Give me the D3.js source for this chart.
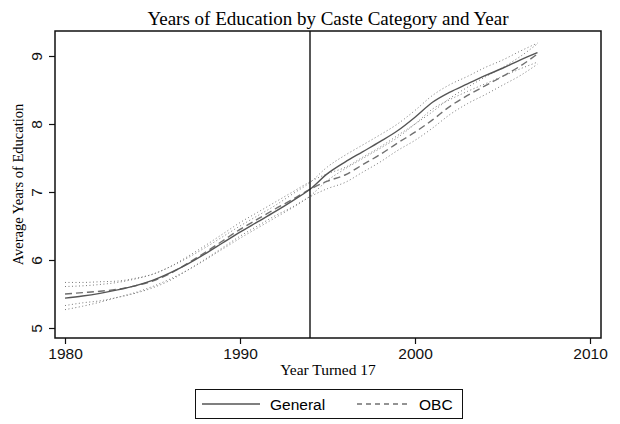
<!DOCTYPE html>
<html>
<head>
<meta charset="utf-8">
<script src="https://cdn.jsdelivr.net/npm/d3@7"></script>
<style>
  body { margin: 0; background: #fff; }
  svg { display: block; }
</style>
</head>
<body>
<div id="chart"></div>
<script>
// data
const years = d3.range(1980, 2008);
const general = [5.44, 5.47, 5.51, 5.56, 5.62, 5.70, 5.81, 5.94, 6.09, 6.25,
                 6.41, 6.56, 6.71, 6.87, 7.04, 7.27, 7.44, 7.59, 7.74, 7.90,
                 8.10, 8.32, 8.47, 8.59, 8.71, 8.82, 8.94, 9.05];
const obc = [5.50, 5.52, 5.54, 5.57, 5.62, 5.69, 5.80, 5.95, 6.11, 6.28,
             6.45, 6.60, 6.75, 6.89, 7.04, 7.16, 7.25, 7.40, 7.55, 7.72,
             7.88, 8.06, 8.26, 8.42, 8.56, 8.70, 8.85, 9.03];
// half-width of the 95% band around each line
const generalCI = [0.17, 0.15, 0.13, 0.11, 0.10, 0.09, 0.09, 0.09, 0.09, 0.09,
                   0.09, 0.09, 0.09, 0.10, 0.10, 0.10, 0.10, 0.10, 0.10, 0.10,
                   0.10, 0.10, 0.11, 0.11, 0.12, 0.12, 0.13, 0.14];
const obcCI = [0.17, 0.15, 0.14, 0.12, 0.11, 0.10, 0.10, 0.10, 0.10, 0.10,
               0.10, 0.10, 0.10, 0.11, 0.11, 0.11, 0.11, 0.11, 0.11, 0.11,
               0.12, 0.12, 0.12, 0.12, 0.13, 0.13, 0.14, 0.15];
const cutoffYear = 1994;
const xTicks = [1980, 1990, 2000, 2010];
const yTicks = [5, 6, 7, 8, 9];

const W = 620, H = 424;
const frame = {left: 55, right: 601, top: 31, bottom: 338};

const svg = d3.select("#chart")
    .append("svg")
    .attr("width", W)
    .attr("height", H);

const x = d3.scaleLinear().domain([1980, 2010]).range([65, 590]);
const y = d3.scaleLinear().domain([5, 9]).range([328, 56]);

const serif = "'Liberation Serif', 'Times New Roman', serif";
const sans = "'Liberation Sans', Arial, Helvetica, sans-serif";

// title
svg.append("text")
    .attr("x", (frame.left + frame.right) / 2)
    .attr("y", 25)
    .attr("text-anchor", "middle")
    .style("font-family", serif)
    .style("font-size", "19px")
    .text("Years of Education by Caste Category and Year");

/* confidence bands, dotted */
const line = d3.line().x(d => x(d[0])).y(d => y(d[1])).curve(d3.curveMonotoneX);
const bands = [
    years.map((yr, i) => [yr, general[i] + generalCI[i]]),
    years.map((yr, i) => [yr, general[i] - generalCI[i]]),
    years.map((yr, i) => [yr, obc[i] + obcCI[i]]),
    years.map((yr, i) => [yr, obc[i] - obcCI[i]])
];
svg.selectAll(".band")
    .data(bands)
    .enter()
    .append("path")
    .attr("class", "band")
    .attr("d", line)
    .attr("fill", "none")
    .attr("stroke", "#777")
    .attr("stroke-width", 1)
    .attr("stroke-dasharray", "1,2.5");

/* main lines */
svg.append("path")
    .datum(years.map((yr, i) => [yr, obc[i]]))
    .attr("d", line)
    .attr("fill", "none")
    .attr("stroke", "#707070")
    .attr("stroke-width", 1.4)
    .attr("stroke-dasharray", "7,4");

svg.append("path")
    .datum(years.map((yr, i) => [yr, general[i]]))
    .attr("d", line)
    .attr("fill", "none")
    .attr("stroke", "#555")
    .attr("stroke-width", 1.4);

// cutoff line
svg.append("line")
    .attr("x1", x(cutoffYear)).attr("x2", x(cutoffYear))
    .attr("y1", frame.top).attr("y2", frame.bottom)
    .attr("stroke", "#111")
    .attr("stroke-width", 1.4);

// frame
svg.append("rect")
    .attr("x", frame.left)
    .attr("y", frame.top)
    .attr("width", frame.right - frame.left)
    .attr("height", frame.bottom - frame.top)
    .attr("fill", "none")
    .attr("stroke", "#111")
    .attr("stroke-width", 1.5);

/* X-axis */
const xAxis = svg.append("g")
    .attr("transform", `translate(0, ${frame.bottom})`)
    .call(d3.axisBottom(x).tickValues(xTicks).tickFormat(d3.format("d")).tickSize(6).tickPadding(4));
xAxis.select(".domain").remove();
xAxis.selectAll("line").attr("stroke", "#111").attr("stroke-width", 1.2);
xAxis.selectAll("text")
    .style("font-family", sans)
    .style("font-size", "15.5px")
    .attr("fill", "#111");

svg.append("text")
    .attr("x", (frame.left + frame.right) / 2)
    .attr("y", 375)
    .attr("text-anchor", "middle")
    .style("font-family", serif)
    .style("font-size", "15.5px")
    .text("Year Turned 17");

/* Y-axis */
const yAxis = svg.append("g")
    .attr("transform", `translate(${frame.left}, 0)`)
    .call(d3.axisLeft(y).tickValues(yTicks).tickFormat(d3.format("d")).tickSize(6).tickPadding(4));
yAxis.select(".domain").remove();
yAxis.selectAll("line").attr("stroke", "#111").attr("stroke-width", 1.2);
yAxis.selectAll("text")
    .style("font-family", sans)
    .style("font-size", "15.5px")
    .attr("fill", "#111")
    .attr("text-anchor", "middle")
    .attr("x", null).attr("dy", null)
    .attr("transform", "translate(-13, 0) rotate(-90)");

svg.append("text")
    .attr("text-anchor", "middle")
    .attr("transform", `translate(23, ${(frame.top + frame.bottom) / 2}) rotate(-90)`)
    .style("font-family", serif)
    .style("font-size", "14.5px")
    .text("Average Years of Education");

// legend
const legend = svg.append("g");
legend.append("rect")
    .attr("x", 195.5).attr("y", 389.5)
    .attr("width", 267).attr("height", 29)
    .attr("fill", "#fff")
    .attr("stroke", "#111")
    .attr("stroke-width", 1);
legend.append("line")
    .attr("x1", 202).attr("x2", 260).attr("y1", 404).attr("y2", 404)
    .attr("stroke", "#555").attr("stroke-width", 1.4);
legend.append("text")
    .attr("x", 270).attr("y", 409.5)
    .style("font-family", sans).style("font-size", "15.5px")
    .text("General");
legend.append("line")
    .attr("x1", 357).attr("x2", 409).attr("y1", 404).attr("y2", 404)
    .attr("stroke", "#707070").attr("stroke-width", 1.4)
    .attr("stroke-dasharray", "5,4");
legend.append("text")
    .attr("x", 419).attr("y", 409.5)
    .style("font-family", sans).style("font-size", "15.5px")
    .text("OBC");
</script>
</body>
</html>
